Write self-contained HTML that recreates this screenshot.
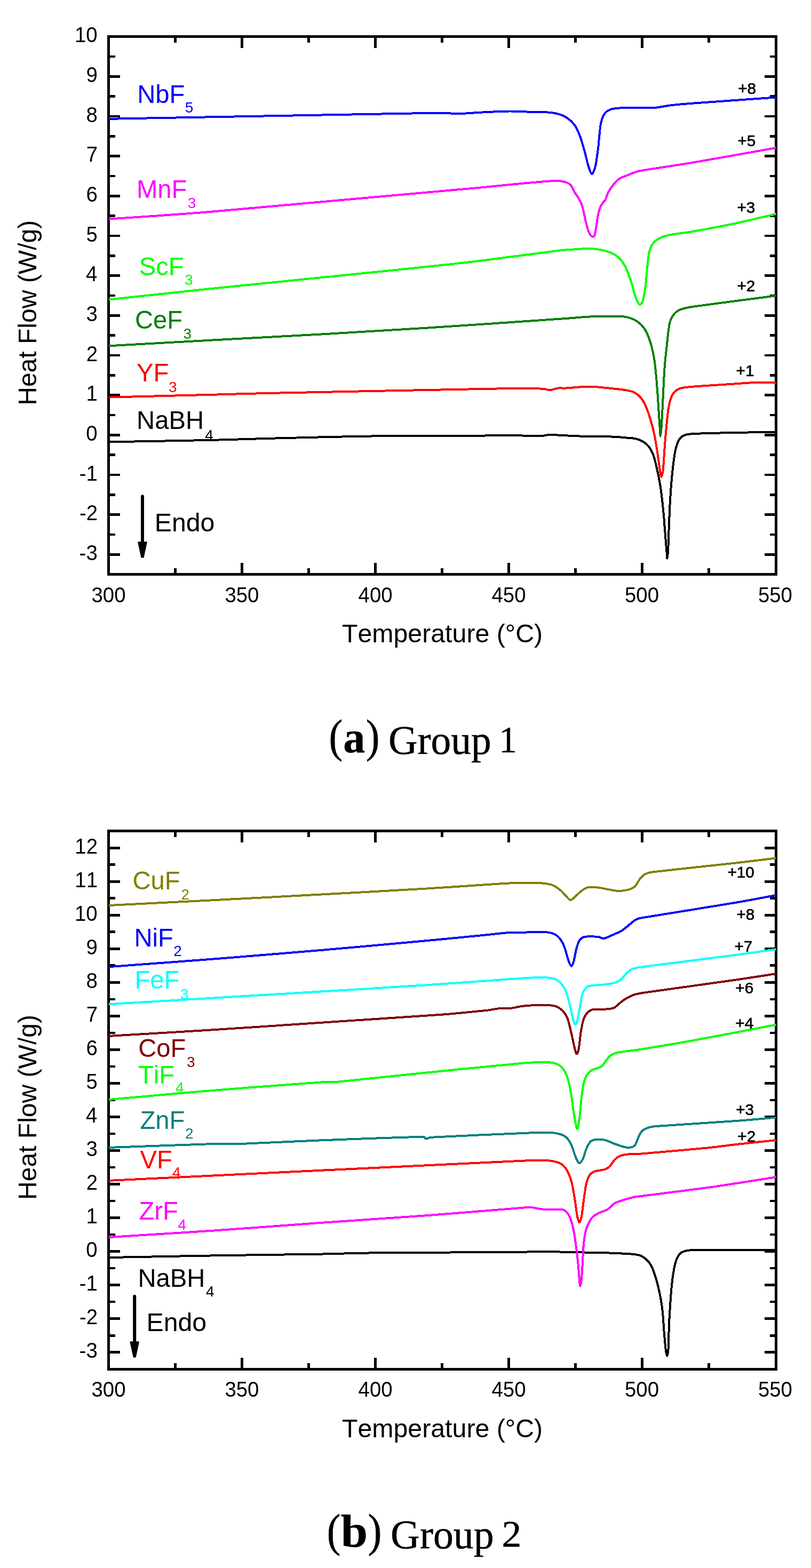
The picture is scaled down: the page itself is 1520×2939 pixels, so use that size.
<!DOCTYPE html>
<html lang="en">
<head>
<meta charset="utf-8">
<title>DSC heat flow curves of NaBH4 with fluoride additives</title>
<style>
html,body{margin:0;padding:0;background:#fff}
body{width:1520px;height:2939px;overflow:hidden}
svg{display:block}
svg text{font-family:"Liberation Sans",Arial,sans-serif;font-kerning:none}
svg .cap text{font-family:"Liberation Serif","DejaVu Serif",serif}
</style>
</head>
<body>
<svg width="1520" height="2939" viewBox="0 0 1520 2939">
<rect width="1520" height="2939" fill="#fff"/>
<g id="chart-a">
<g shape-rendering="crispEdges">
<path d="M203.7 1039.3h21.6M1454.7 1039.3h-21.6M203.7 1001.9h12.2M1454.7 1001.9h-12.2M203.7 964.6h21.6M1454.7 964.6h-21.6M203.7 927.3h12.2M1454.7 927.3h-12.2M203.7 890.0h21.6M1454.7 890.0h-21.6M203.7 852.6h12.2M1454.7 852.6h-12.2M203.7 815.3h21.6M1454.7 815.3h-21.6M203.7 778.0h12.2M1454.7 778.0h-12.2M203.7 740.6h21.6M1454.7 740.6h-21.6M203.7 703.3h12.2M1454.7 703.3h-12.2M203.7 666.0h21.6M1454.7 666.0h-21.6M203.7 628.6h12.2M1454.7 628.6h-12.2M203.7 591.3h21.6M1454.7 591.3h-21.6M203.7 554.0h12.2M1454.7 554.0h-12.2M203.7 516.7h21.6M1454.7 516.7h-21.6M203.7 479.3h12.2M1454.7 479.3h-12.2M203.7 442.0h21.6M1454.7 442.0h-21.6M203.7 404.7h12.2M1454.7 404.7h-12.2M203.7 367.3h21.6M1454.7 367.3h-21.6M203.7 330.0h12.2M1454.7 330.0h-12.2M203.7 292.7h21.6M1454.7 292.7h-21.6M203.7 255.4h12.2M1454.7 255.4h-12.2M203.7 218.0h21.6M1454.7 218.0h-21.6M203.7 180.7h12.2M1454.7 180.7h-12.2M203.7 143.4h21.6M1454.7 143.4h-21.6M203.7 106.0h12.2M1454.7 106.0h-12.2M328.6 68.6v11.4M328.6 1076.4v-11.4M453.6 68.6v21.0M453.6 1076.4v-21.0M578.5 68.6v11.4M578.5 1076.4v-11.4M703.5 68.6v21.0M703.5 1076.4v-21.0M828.5 68.6v11.4M828.5 1076.4v-11.4M953.4 68.6v21.0M953.4 1076.4v-21.0M1078.4 68.6v11.4M1078.4 1076.4v-11.4M1203.3 68.6v21.0M1203.3 1076.4v-21.0M1328.2 68.6v11.4M1328.2 1076.4v-11.4" stroke="#000" stroke-width="4.7" stroke-linecap="butt" fill="none"/>
<rect x="203.7" y="68.6" width="1251.0" height="1007.8" fill="none" stroke="#000" stroke-width="5.0"/>
</g>
<text x="1383.2" y="176.2" font-size="29.7" stroke="#000" stroke-width="0.7">+8</text>
<text x="1382.5" y="274.4" font-size="29.7" stroke="#000" stroke-width="0.7">+5</text>
<text x="1381.4" y="399.4" font-size="29.7" stroke="#000" stroke-width="0.7">+3</text>
<text x="1381.4" y="546.1" font-size="29.7" stroke="#000" stroke-width="0.7">+2</text>
<text x="1379.6" y="704.7" font-size="29.7" stroke="#000" stroke-width="0.7">+1</text>
<clipPath id="clip1"><rect x="203.7" y="68.6" width="1251.0" height="1007.8"/></clipPath>
<g clip-path="url(#clip1)" fill="none" stroke-width="4.0" stroke-linejoin="round" stroke-linecap="butt" shape-rendering="crispEdges">
<path stroke="#000000" d="M199.8 828.4C233.2 827.8 350.0 825.9 400.0 824.8C433.3 824.1 466.7 822.7 500.0 821.9C550.8 820.7 636.5 818.2 704.8 817.4C782.7 816.5 915.8 816.5 967.5 816.4C983.3 816.4 1004.3 817.3 1014.8 817.0C1020.1 816.9 1025.3 815.0 1030.6 814.8C1036.7 814.6 1044.6 815.6 1051.6 815.9C1063.2 816.4 1083.9 817.6 1100.0 818.0C1116.4 818.5 1137.5 818.2 1150.0 818.6C1158.4 818.9 1168.3 820.0 1175.0 820.6C1180.0 821.0 1185.8 821.2 1190.0 822.0C1193.5 822.6 1196.9 823.7 1200.1 825.2C1203.5 826.8 1207.2 828.8 1210.2 831.3C1213.2 833.8 1216.1 837.0 1218.3 840.4C1220.6 843.9 1222.7 848.3 1224.3 852.5C1226.1 857.2 1227.6 863.4 1228.9 868.6C1230.2 873.6 1231.3 878.8 1232.4 883.8C1233.5 888.8 1234.5 893.9 1235.4 898.9C1236.4 904.3 1237.6 910.3 1238.4 916.1C1239.4 923.2 1240.6 932.9 1241.5 941.3C1242.4 949.7 1243.3 958.1 1244.0 966.5C1244.8 974.9 1245.3 983.4 1246.0 991.8C1246.7 1000.2 1247.4 1009.8 1248.0 1017.0C1248.5 1023.1 1249.1 1030.2 1249.5 1035.2C1249.8 1039.1 1250.1 1046.8 1250.5 1046.8C1250.9 1046.8 1251.5 1039.1 1251.8 1035.2C1252.2 1030.2 1252.5 1023.1 1252.8 1017.0C1253.1 1009.8 1253.3 1000.2 1253.6 991.8C1253.9 983.4 1254.2 974.9 1254.6 966.5C1255.0 958.1 1255.3 949.7 1255.8 941.3C1256.3 932.9 1256.9 923.7 1257.4 916.1C1257.9 909.4 1258.5 902.6 1259.1 895.9C1259.7 889.2 1260.4 882.3 1261.2 875.7C1261.9 869.3 1262.8 862.4 1263.7 856.5C1264.5 851.1 1265.5 845.1 1266.7 840.4C1267.7 836.3 1269.2 831.7 1270.7 828.3C1272.0 825.4 1273.8 822.3 1275.8 820.2C1277.8 818.2 1280.4 816.7 1282.9 815.6C1285.4 814.6 1288.2 814.3 1290.9 813.9C1293.9 813.4 1297.6 813.0 1301.0 812.9C1310.0 812.5 1330.3 811.9 1345.0 811.6C1366.8 811.1 1413.0 810.3 1432.0 810.0C1440.9 809.9 1454.3 810.0 1458.8 810.0"/>
<path stroke="#ff0000" d="M199.8 744.7C233.2 743.9 350.0 741.0 400.0 739.7C433.3 738.8 466.7 737.7 500.0 737.0C587.6 735.1 843.2 730.1 925.5 728.6C948.3 728.2 978.0 727.9 993.8 728.0C1002.5 728.0 1013.9 728.5 1020.0 729.0C1023.6 729.3 1027.0 731.4 1030.6 731.2C1034.9 731.0 1041.1 728.2 1046.0 727.6C1050.6 727.0 1055.3 727.8 1060.0 727.6C1069.8 727.1 1090.0 724.5 1105.0 724.6C1120.0 724.8 1138.5 727.4 1150.0 728.5C1158.0 729.3 1167.5 730.3 1174.0 731.5C1179.1 732.4 1184.5 733.4 1189.0 735.7C1193.5 738.1 1197.7 741.6 1201.0 745.6C1204.5 749.8 1207.6 755.3 1210.0 760.6C1213.0 767.3 1216.4 777.4 1219.0 786.0C1221.8 795.2 1224.6 805.9 1226.7 816.0C1229.0 827.0 1231.0 841.0 1232.7 852.0C1234.3 862.0 1235.8 875.1 1237.0 882.0C1237.6 885.9 1238.7 893.6 1239.6 893.6C1240.5 893.6 1242.2 886.0 1242.6 882.0C1243.6 873.1 1244.6 853.0 1245.6 840.0C1246.5 828.0 1247.5 815.5 1248.6 804.0C1249.6 793.0 1250.7 780.2 1252.0 771.0C1253.1 763.5 1254.7 754.6 1256.7 748.6C1258.3 743.7 1260.8 738.5 1264.0 735.0C1267.2 731.5 1271.5 728.9 1276.0 727.6C1282.0 725.9 1292.0 725.3 1300.0 724.6C1314.5 723.4 1343.8 721.7 1363.0 720.4C1380.3 719.3 1399.0 717.6 1415.0 717.0C1429.6 716.5 1451.5 716.9 1458.8 716.9"/>
<path stroke="#007f00" d="M199.8 648.5C233.2 646.7 333.3 641.1 400.0 637.4C466.7 633.7 533.3 630.4 600.0 626.6C666.7 622.8 733.4 618.9 800.0 614.6C876.7 609.7 1010.0 600.5 1060.0 597.0C1073.3 596.1 1088.3 594.5 1100.0 593.8C1110.0 593.2 1120.0 593.2 1130.0 593.0C1140.3 592.8 1153.7 592.2 1162.0 592.7C1168.1 593.0 1174.5 594.0 1180.0 595.7C1185.3 597.4 1190.5 599.8 1195.0 603.0C1199.5 606.2 1203.8 610.4 1207.0 615.0C1210.5 620.0 1213.7 626.7 1216.0 633.0C1218.8 640.5 1221.7 651.0 1223.7 660.0C1225.7 668.9 1227.0 677.9 1228.0 687.0C1229.4 699.0 1230.9 717.5 1232.0 732.0C1233.1 746.0 1234.0 762.5 1234.8 774.0C1235.4 783.0 1236.1 793.7 1236.6 801.0C1237.0 806.6 1237.3 817.7 1237.8 817.7C1238.3 817.7 1239.2 806.6 1239.6 801.0C1240.2 792.2 1241.1 777.0 1241.7 765.0C1242.4 751.5 1243.1 733.5 1243.8 720.0C1244.4 708.0 1245.1 694.8 1246.0 684.0C1246.8 674.3 1247.9 664.7 1249.0 655.0C1250.5 642.0 1252.5 617.2 1255.0 606.0C1256.5 599.5 1260.5 592.3 1264.0 588.0C1267.0 584.3 1271.5 581.7 1276.0 580.0C1282.0 577.8 1291.9 575.8 1300.0 574.6C1330.2 570.3 1430.8 557.4 1457.0 554.0"/>
<path stroke="#00ff00" d="M199.8 562.0C233.2 558.5 333.3 547.5 400.0 540.6C466.6 533.7 533.3 527.2 600.0 520.4C666.7 513.6 750.0 505.3 800.0 500.0C833.4 496.5 866.7 492.9 900.0 488.8C941.7 483.7 1020.0 472.9 1050.0 469.3C1060.0 468.1 1070.8 467.8 1080.0 467.2C1088.3 466.7 1096.7 465.5 1105.0 466.0C1114.2 466.5 1126.5 468.1 1135.0 470.4C1142.4 472.4 1150.0 475.4 1156.0 480.0C1162.0 484.6 1167.2 491.2 1171.0 498.0C1175.5 506.0 1179.7 518.5 1183.0 528.0C1186.0 536.8 1188.0 547.8 1190.6 555.0C1192.7 560.6 1196.2 570.0 1198.7 571.0C1201.2 572.0 1204.4 564.9 1205.6 561.0C1207.5 554.8 1208.8 543.0 1210.0 534.0C1211.2 524.5 1212.0 513.5 1213.0 504.0C1213.9 495.0 1214.5 484.5 1216.0 477.0C1217.2 470.8 1219.2 463.8 1222.0 459.0C1224.5 454.7 1228.4 451.1 1232.7 448.5C1237.7 445.5 1245.3 442.5 1252.0 441.0C1263.2 438.5 1284.1 436.4 1300.0 433.6C1320.0 430.1 1348.1 425.0 1372.0 420.0C1398.5 414.4 1444.3 403.4 1458.8 400.1"/>
<path stroke="#ff00ff" d="M199.8 410.8C225.8 409.0 306.0 403.9 356.0 400.0C404.0 396.3 452.0 391.8 500.0 387.5C590.7 379.4 823.3 358.6 900.0 351.6C920.0 349.8 940.0 347.5 960.0 345.6C980.0 343.7 1006.0 341.3 1020.0 340.2C1028.0 339.6 1037.5 338.9 1044.0 339.0C1049.0 339.1 1054.7 339.7 1059.0 341.0C1062.9 342.2 1066.9 344.0 1069.7 347.0C1072.7 350.3 1074.3 356.2 1077.0 360.6C1079.7 365.1 1083.5 369.3 1086.0 374.0C1088.5 378.7 1090.5 383.8 1092.0 389.0C1094.0 396.0 1096.2 408.7 1098.0 416.0C1099.4 421.6 1101.2 428.5 1102.7 432.7C1103.8 435.6 1105.6 439.1 1107.0 441.0C1108.0 442.3 1109.7 444.0 1111.0 443.8C1112.3 443.6 1114.1 441.7 1114.7 440.0C1115.8 436.6 1116.8 429.1 1117.7 423.7C1118.7 417.7 1119.7 409.3 1120.7 404.0C1121.5 399.9 1122.3 395.9 1123.7 392.0C1125.2 388.0 1128.0 382.7 1129.7 380.0C1130.8 378.3 1133.0 377.4 1134.0 375.6C1135.7 372.4 1137.5 365.4 1140.0 360.6C1142.5 355.8 1145.7 351.1 1149.0 347.0C1152.2 342.9 1155.4 338.6 1159.7 335.7C1164.2 332.6 1170.5 330.8 1176.0 328.5C1181.7 326.1 1187.8 323.3 1194.0 321.6C1200.5 319.8 1208.0 318.8 1215.0 317.7C1232.7 314.8 1271.7 309.2 1300.0 304.4C1340.6 297.5 1432.3 281.0 1458.8 276.3"/>
<path stroke="#0000ff" d="M199.8 222.9C249.8 222.0 400.0 219.2 500.0 217.4C600.0 215.6 743.3 212.8 800.0 212.0C813.3 211.8 830.0 212.1 840.0 212.3C846.7 212.4 853.3 213.4 860.0 213.3C866.7 213.2 873.3 212.4 880.0 212.0C888.0 211.5 898.7 210.7 908.0 210.3C920.7 209.7 940.7 208.6 956.0 208.5C970.7 208.5 989.3 209.8 1000.0 210.0C1006.7 210.2 1013.3 209.5 1020.0 210.0C1027.3 210.5 1037.0 211.2 1044.0 213.0C1050.3 214.6 1056.6 216.9 1062.0 220.5C1067.5 224.1 1073.0 229.2 1077.0 234.6C1081.0 239.9 1083.6 246.3 1086.0 252.6C1089.0 260.3 1092.3 271.5 1095.0 281.0C1097.8 290.7 1100.3 303.5 1102.7 311.0C1104.4 316.2 1107.2 325.7 1109.3 326.0C1111.4 326.3 1114.4 317.5 1115.6 312.7C1117.5 305.2 1119.3 291.3 1120.7 281.0C1122.0 271.0 1122.7 259.7 1123.7 251.0C1124.6 243.5 1125.0 235.1 1126.7 228.6C1128.2 222.8 1130.8 216.0 1134.0 212.0C1136.9 208.3 1141.5 205.9 1146.0 204.6C1152.0 202.9 1162.0 202.3 1170.0 202.0C1182.0 201.5 1208.0 201.7 1218.0 201.6C1222.0 201.6 1226.0 202.0 1230.0 201.6C1237.0 200.8 1250.0 198.2 1260.0 197.0C1271.7 195.7 1286.7 194.5 1300.0 193.5C1333.1 191.0 1432.3 184.1 1458.8 182.2"/>
</g>
<text transform="translate(148.6 1050.0) scale(1 1.045)" font-size="38.4">-3</text>
<text transform="translate(148.9 975.3) scale(1 1.045)" font-size="38.4">-2</text>
<text transform="translate(148.8 900.7) scale(1 1.045)" font-size="38.4">-1</text>
<text transform="translate(161.2 826.0) scale(1 1.045)" font-size="38.4">0</text>
<text transform="translate(161.6 751.3) scale(1 1.045)" font-size="38.4">1</text>
<text transform="translate(161.7 676.7) scale(1 1.045)" font-size="38.4">2</text>
<text transform="translate(161.4 602.0) scale(1 1.045)" font-size="38.4">3</text>
<text transform="translate(160.9 527.4) scale(1 1.045)" font-size="38.4">4</text>
<text transform="translate(161.4 452.7) scale(1 1.045)" font-size="38.4">5</text>
<text transform="translate(161.4 378.0) scale(1 1.045)" font-size="38.4">6</text>
<text transform="translate(161.7 303.4) scale(1 1.045)" font-size="38.4">7</text>
<text transform="translate(161.4 228.7) scale(1 1.045)" font-size="38.4">8</text>
<text transform="translate(161.6 154.1) scale(1 1.045)" font-size="38.4">9</text>
<text transform="translate(139.9 79.4) scale(1 1.045)" font-size="38.4">10</text>
<text transform="translate(171.5 1129.0) scale(1 1.045)" font-size="38.4">300</text>
<text transform="translate(421.4 1129.0) scale(1 1.045)" font-size="38.4">350</text>
<text transform="translate(671.6 1129.0) scale(1 1.045)" font-size="38.4">400</text>
<text transform="translate(921.5 1129.0) scale(1 1.045)" font-size="38.4">450</text>
<text transform="translate(1171.0 1129.0) scale(1 1.045)" font-size="38.4">500</text>
<text transform="translate(1420.9 1129.0) scale(1 1.045)" font-size="38.4">550</text>
<text x="640.9" y="1203.9" font-size="47.4" textLength="376.2" lengthAdjust="spacingAndGlyphs">Temperature (°C)</text>
<g transform="translate(68.1 755.9) rotate(-90)"><text x="-3.9" y="0.0" font-size="49" textLength="347.0" lengthAdjust="spacingAndGlyphs">Heat Flow (W/g)</text></g>
<text transform="translate(257.2 193.0) scale(1 1.020)" font-size="47.2" fill="#0000ff">NbF</text>
<text x="346.8" y="211.0" font-size="28" fill="#0000ff">5</text>
<text transform="translate(255.9 371.4) scale(1 1.020)" font-size="47.2" fill="#ff00ff">MnF</text>
<text x="351.8" y="389.8" font-size="28" fill="#ff00ff">3</text>
<text transform="translate(260.7 515.5) scale(1 1.020)" font-size="47.2" fill="#00ff00">ScF</text>
<text x="346.1" y="534.3" font-size="28" fill="#00ff00">3</text>
<text transform="translate(252.9 616.1) scale(1 1.020)" font-size="47.2" fill="#007f00">CeF</text>
<text x="343.5" y="634.8" font-size="28" fill="#007f00">3</text>
<text transform="translate(256.0 715.3) scale(1 1.020)" font-size="47.2" fill="#ff0000">YF</text>
<text x="316.1" y="734.5" font-size="28" fill="#ff0000">3</text>
<text transform="translate(256.1 803.5) scale(1 1.020)" font-size="47.2">NaBH</text>
<text x="384.2" y="824.6" font-size="28">4</text>
<text x="289.8" y="995.6" font-size="48.2">Endo</text>
<path d="M267.0 930.3V1023.8" stroke="#000" stroke-width="6" stroke-linecap="round" fill="none"/>
<path d="M259.5 1016.5L274.5 1016.5L268.5 1044.4L265.5 1044.4Z" fill="#000" stroke="#000" stroke-width="2.4" stroke-linejoin="round"/>
</g>
<g class="cap" stroke="#000" stroke-width="0.7" stroke-linejoin="round">
<text transform="translate(616.61 1409.26) scale(0.7709 0.8613)" font-size="100">(</text>
<text transform="translate(643.16 1409.98) scale(0.8196 0.8413)" font-size="100" font-weight="bold" stroke-width="0.5">a</text>
<text transform="translate(685.82 1409.26) scale(0.7709 0.8613)" font-size="100">)</text>
<text transform="translate(728.01 1412.79) scale(0.7543 0.7520)" font-size="100">Group</text>
<text transform="translate(935.01 1409.60) scale(0.6817 0.6877)" font-size="100">1</text>
</g>
<g id="chart-b">
<g shape-rendering="crispEdges">
<path d="M203.7 2534.7h21.6M1454.7 2534.7h-21.6M203.7 2503.2h12.2M1454.7 2503.2h-12.2M203.7 2471.7h21.6M1454.7 2471.7h-21.6M203.7 2440.1h12.2M1454.7 2440.1h-12.2M203.7 2408.6h21.6M1454.7 2408.6h-21.6M203.7 2377.1h12.2M1454.7 2377.1h-12.2M203.7 2345.6h21.6M1454.7 2345.6h-21.6M203.7 2314.1h12.2M1454.7 2314.1h-12.2M203.7 2282.6h21.6M1454.7 2282.6h-21.6M203.7 2251.1h12.2M1454.7 2251.1h-12.2M203.7 2219.5h21.6M1454.7 2219.5h-21.6M203.7 2188.0h12.2M1454.7 2188.0h-12.2M203.7 2156.5h21.6M1454.7 2156.5h-21.6M203.7 2125.0h12.2M1454.7 2125.0h-12.2M203.7 2093.5h21.6M1454.7 2093.5h-21.6M203.7 2062.0h12.2M1454.7 2062.0h-12.2M203.7 2030.4h21.6M1454.7 2030.4h-21.6M203.7 1998.9h12.2M1454.7 1998.9h-12.2M203.7 1967.4h21.6M1454.7 1967.4h-21.6M203.7 1935.9h12.2M1454.7 1935.9h-12.2M203.7 1904.4h21.6M1454.7 1904.4h-21.6M203.7 1872.9h12.2M1454.7 1872.9h-12.2M203.7 1841.4h21.6M1454.7 1841.4h-21.6M203.7 1809.8h12.2M1454.7 1809.8h-12.2M203.7 1778.3h21.6M1454.7 1778.3h-21.6M203.7 1746.8h12.2M1454.7 1746.8h-12.2M203.7 1715.3h21.6M1454.7 1715.3h-21.6M203.7 1683.8h12.2M1454.7 1683.8h-12.2M203.7 1652.3h21.6M1454.7 1652.3h-21.6M203.7 1620.8h12.2M1454.7 1620.8h-12.2M203.7 1589.2h21.6M1454.7 1589.2h-21.6M328.6 1557.7v11.4M328.6 2566.3v-11.4M453.6 1557.7v21.0M453.6 2566.3v-21.0M578.5 1557.7v11.4M578.5 2566.3v-11.4M703.5 1557.7v21.0M703.5 2566.3v-21.0M828.5 1557.7v11.4M828.5 2566.3v-11.4M953.4 1557.7v21.0M953.4 2566.3v-21.0M1078.4 1557.7v11.4M1078.4 2566.3v-11.4M1203.3 1557.7v21.0M1203.3 2566.3v-21.0M1328.2 1557.7v11.4M1328.2 2566.3v-11.4" stroke="#000" stroke-width="4.7" stroke-linecap="butt" fill="none"/>
<rect x="203.7" y="1557.7" width="1251.0" height="1008.6" fill="none" stroke="#000" stroke-width="5.0"/>
</g>
<text x="1363.4" y="1644.7" font-size="29.7" stroke="#000" stroke-width="0.7">+10</text>
<text x="1380.4" y="1723.7" font-size="29.7" stroke="#000" stroke-width="0.7">+8</text>
<text x="1376.5" y="1784.2" font-size="29.7" stroke="#000" stroke-width="0.7">+7</text>
<text x="1378.3" y="1861.6" font-size="29.7" stroke="#000" stroke-width="0.7">+6</text>
<text x="1378.3" y="1927.7" font-size="29.7" stroke="#000" stroke-width="0.7">+4</text>
<text x="1379.2" y="2090.0" font-size="29.7" stroke="#000" stroke-width="0.7">+3</text>
<text x="1382.3" y="2140.0" font-size="29.7" stroke="#000" stroke-width="0.7">+2</text>
<clipPath id="clip2"><rect x="203.7" y="1557.7" width="1251.0" height="1008.6"/></clipPath>
<g clip-path="url(#clip2)" fill="none" stroke-width="4.0" stroke-linejoin="round" stroke-linecap="butt" shape-rendering="crispEdges">
<path stroke="#000000" d="M199.8 2357.1C233.2 2356.5 333.3 2354.5 400.0 2353.4C466.7 2352.3 550.0 2351.4 600.0 2350.6C633.3 2350.0 666.7 2348.7 700.0 2348.4C763.3 2347.8 926.8 2347.2 980.0 2346.7C993.0 2346.6 1006.5 2345.5 1019.0 2345.5C1031.0 2345.5 1043.0 2346.4 1055.0 2346.7C1075.5 2347.2 1122.0 2347.9 1142.0 2348.5C1153.0 2348.8 1167.0 2349.6 1175.0 2350.0C1180.0 2350.3 1186.0 2350.7 1190.0 2351.2C1193.0 2351.6 1196.1 2351.9 1199.0 2353.0C1202.0 2354.1 1205.3 2355.8 1208.0 2357.9C1211.0 2360.2 1214.5 2363.5 1217.0 2366.9C1219.5 2370.3 1221.5 2374.5 1223.3 2378.6C1225.1 2382.7 1226.4 2387.0 1227.8 2391.3C1229.2 2395.7 1230.7 2400.3 1231.9 2404.8C1233.1 2409.3 1234.0 2414.0 1235.0 2418.3C1235.9 2422.5 1236.9 2426.7 1237.7 2430.9C1238.5 2435.2 1239.3 2439.9 1240.0 2444.4C1240.7 2449.1 1241.3 2454.0 1241.8 2458.8C1242.3 2463.8 1242.8 2469.0 1243.2 2474.1C1243.6 2479.4 1243.7 2485.1 1244.1 2490.4C1244.5 2495.5 1245.0 2500.9 1245.4 2505.7C1245.8 2510.2 1246.2 2514.7 1246.6 2519.2C1247.0 2523.7 1247.5 2529.0 1248.1 2532.7C1248.6 2535.7 1249.5 2541.5 1250.2 2541.5C1250.9 2541.5 1251.8 2535.7 1252.2 2532.7C1252.7 2529.0 1252.7 2523.7 1252.9 2519.2C1253.1 2514.7 1253.1 2510.2 1253.2 2505.7C1253.3 2500.9 1253.6 2495.5 1253.8 2490.4C1254.0 2485.1 1254.2 2479.4 1254.4 2474.1C1254.6 2469.0 1255.0 2463.8 1255.3 2458.8C1255.6 2454.0 1255.9 2449.1 1256.2 2444.4C1256.5 2439.9 1256.8 2435.4 1257.1 2430.9C1257.4 2426.2 1257.9 2421.3 1258.3 2416.5C1258.8 2411.7 1259.2 2406.8 1259.8 2402.1C1260.3 2397.6 1260.9 2393.1 1261.6 2388.6C1262.3 2384.1 1263.0 2379.2 1263.9 2375.0C1264.7 2371.1 1265.8 2366.8 1267.0 2363.3C1268.1 2360.2 1269.5 2356.9 1271.1 2354.3C1272.6 2352.0 1274.4 2349.6 1276.5 2348.0C1278.6 2346.4 1281.2 2345.6 1283.7 2344.9C1286.5 2344.1 1290.3 2343.6 1293.6 2343.3C1298.0 2342.9 1304.5 2342.6 1310.0 2342.6C1337.5 2342.5 1434.0 2342.5 1458.8 2342.5"/>
<path stroke="#ff00ff" d="M199.8 2319.3C233.2 2317.1 333.3 2311.1 400.0 2306.6C466.7 2302.1 533.3 2296.7 600.0 2292.0C666.7 2287.3 736.7 2282.9 800.0 2278.2C860.0 2273.7 947.5 2266.2 980.0 2263.7C985.0 2263.3 990.0 2262.6 995.0 2263.0C1001.5 2263.5 1010.9 2266.2 1019.0 2266.7C1028.5 2267.3 1045.0 2266.0 1052.0 2266.7C1055.3 2267.0 1058.6 2268.7 1061.0 2271.0C1063.8 2273.7 1066.8 2278.6 1068.6 2283.0C1070.9 2288.5 1073.1 2296.9 1074.6 2304.0C1076.3 2312.0 1077.8 2322.0 1079.0 2331.0C1080.5 2342.0 1082.4 2358.5 1083.6 2370.0C1084.6 2380.0 1085.3 2393.2 1086.0 2400.0C1086.3 2403.6 1086.9 2410.6 1087.5 2410.6C1088.1 2410.6 1089.2 2403.6 1089.6 2400.0C1090.3 2393.2 1091.1 2380.0 1091.7 2370.0C1092.4 2358.5 1092.8 2342.0 1094.0 2331.0C1094.9 2321.9 1096.6 2311.2 1098.6 2304.0C1100.2 2298.2 1103.8 2291.5 1106.0 2287.5C1107.6 2284.7 1109.5 2282.0 1112.0 2280.0C1115.0 2277.6 1119.8 2275.0 1124.0 2273.0C1128.5 2270.8 1134.5 2269.5 1139.0 2266.7C1143.5 2263.9 1146.5 2258.8 1151.0 2256.0C1155.5 2253.2 1160.9 2251.7 1166.0 2250.0C1172.0 2248.0 1181.3 2245.3 1187.0 2244.0C1191.3 2243.0 1195.7 2242.8 1200.0 2242.2C1223.3 2239.2 1297.0 2229.9 1327.0 2225.9C1344.7 2223.5 1362.3 2220.7 1380.0 2218.0C1402.0 2214.6 1445.7 2207.6 1458.8 2205.6"/>
<path stroke="#ff0000" d="M199.8 2213.1C329.8 2206.9 842.5 2182.0 980.0 2175.7C995.0 2175.0 1014.5 2174.6 1025.0 2175.0C1031.1 2175.2 1038.0 2176.5 1043.0 2178.0C1047.3 2179.3 1051.6 2181.1 1055.0 2184.0C1058.5 2187.0 1061.8 2191.5 1064.0 2196.0C1066.8 2201.5 1069.8 2209.8 1071.6 2217.0C1073.9 2226.0 1075.9 2239.5 1077.6 2250.0C1079.2 2260.0 1080.6 2273.1 1082.0 2280.0C1082.8 2284.0 1084.7 2291.6 1086.0 2291.6C1087.3 2291.6 1089.2 2284.0 1090.0 2280.0C1091.3 2273.1 1092.6 2260.0 1094.0 2250.0C1095.4 2240.0 1096.8 2227.7 1098.6 2220.0C1099.9 2214.3 1102.1 2207.6 1104.6 2203.6C1106.7 2200.3 1110.0 2197.5 1113.6 2196.0C1118.3 2194.1 1128.3 2193.5 1133.0 2192.0C1136.3 2191.0 1139.5 2189.4 1142.0 2187.0C1145.0 2184.2 1148.0 2178.2 1151.0 2175.0C1153.6 2172.2 1156.5 2169.3 1160.0 2167.6C1164.0 2165.7 1169.9 2164.3 1175.0 2163.7C1181.7 2162.9 1191.7 2163.4 1200.0 2162.7C1225.3 2160.6 1297.0 2154.3 1327.0 2151.4C1344.7 2149.7 1362.3 2147.0 1380.0 2145.0C1402.0 2142.5 1445.7 2138.0 1458.8 2136.6"/>
<path stroke="#008080" d="M199.8 2151.1C233.2 2150.0 356.6 2145.3 400.0 2144.0C420.0 2143.4 440.0 2144.3 460.0 2143.6C493.3 2142.5 553.3 2139.2 600.0 2137.4C655.6 2135.3 760.3 2131.3 793.4 2130.8C795.6 2130.8 796.6 2134.4 798.8 2134.6C801.0 2134.8 803.8 2132.0 806.6 2131.8C836.8 2130.0 943.6 2125.5 980.0 2124.0C995.0 2123.4 1013.5 2122.3 1025.0 2122.6C1033.1 2122.8 1042.7 2123.9 1049.0 2125.6C1054.0 2127.0 1058.9 2129.4 1062.6 2133.0C1066.4 2136.7 1069.2 2142.7 1071.6 2148.0C1074.3 2154.0 1076.7 2163.6 1079.0 2169.0C1080.8 2173.1 1083.4 2180.0 1085.7 2180.5C1088.0 2181.0 1091.0 2175.3 1092.6 2172.0C1094.8 2167.6 1096.4 2159.2 1098.6 2154.0C1100.6 2149.3 1103.3 2143.6 1106.0 2140.6C1108.3 2138.1 1111.7 2136.5 1115.0 2136.0C1119.5 2135.3 1127.1 2135.5 1133.0 2136.7C1139.0 2138.0 1145.0 2141.4 1151.0 2143.6C1157.0 2145.7 1164.0 2148.4 1169.0 2149.6C1172.9 2150.6 1177.5 2151.5 1181.0 2151.0C1184.3 2150.5 1187.9 2149.2 1190.0 2146.6C1192.5 2143.6 1193.8 2137.4 1196.0 2133.0C1198.3 2128.5 1200.2 2122.9 1203.7 2119.6C1207.2 2116.3 1212.2 2114.4 1217.0 2113.0C1222.2 2111.5 1229.0 2111.0 1235.0 2110.6C1262.2 2108.6 1342.7 2103.7 1380.0 2101.0C1406.3 2099.1 1445.7 2095.3 1458.8 2094.2"/>
<path stroke="#00ff00" d="M199.8 2061.4C233.2 2058.4 333.3 2049.3 400.0 2043.8C466.6 2038.3 561.0 2031.3 600.0 2028.6C611.3 2027.8 622.7 2028.6 634.0 2027.6C667.3 2024.6 744.7 2016.0 800.0 2010.4C857.7 2004.6 942.5 1995.9 980.0 1992.7C995.0 1991.4 1014.5 1990.8 1025.0 1991.0C1031.1 1991.1 1038.0 1992.0 1043.0 1994.0C1047.6 1995.9 1051.9 1999.1 1055.0 2003.0C1058.5 2007.5 1061.9 2014.6 1064.0 2021.0C1066.5 2028.5 1068.4 2038.9 1070.0 2048.0C1072.0 2059.5 1074.0 2078.6 1076.0 2090.0C1077.6 2098.8 1080.2 2116.2 1082.0 2116.2C1083.8 2116.2 1085.4 2098.8 1086.6 2090.0C1087.9 2080.6 1088.4 2070.0 1089.6 2060.0C1090.8 2050.0 1092.3 2037.5 1094.0 2030.0C1095.2 2024.8 1097.5 2019.0 1100.0 2015.0C1102.2 2011.4 1105.4 2008.2 1109.0 2006.0C1113.5 2003.3 1122.5 2002.0 1127.0 1999.0C1130.9 1996.4 1133.0 1991.5 1136.0 1988.0C1138.9 1984.5 1141.2 1980.2 1145.0 1977.7C1149.0 1975.1 1154.8 1973.5 1160.0 1972.5C1169.2 1970.7 1186.7 1969.1 1200.0 1967.0C1220.0 1963.8 1253.4 1958.3 1280.0 1953.6C1310.0 1948.3 1350.2 1940.6 1380.0 1935.0C1406.3 1930.0 1445.7 1922.4 1458.8 1919.8"/>
<path stroke="#800000" d="M199.8 1942.2C233.2 1940.2 333.3 1934.4 400.0 1930.2C466.7 1926.0 533.3 1921.3 600.0 1916.9C666.7 1912.5 760.0 1906.3 800.0 1903.6C813.3 1902.7 826.7 1901.9 840.0 1900.8C854.2 1899.6 872.5 1897.7 885.0 1896.5C895.0 1895.5 906.5 1894.5 915.0 1893.5C922.0 1892.6 929.0 1890.8 936.0 1890.2C943.0 1889.6 950.5 1890.4 957.0 1889.8C963.1 1889.2 969.5 1887.3 975.0 1886.5C980.0 1885.7 985.0 1885.2 990.0 1884.8C995.0 1884.4 1000.0 1884.3 1005.0 1884.2C1011.5 1884.1 1022.7 1883.8 1029.0 1884.2C1033.7 1884.5 1038.7 1884.9 1043.0 1886.7C1047.3 1888.5 1051.7 1891.4 1055.0 1895.0C1058.5 1898.9 1062.0 1904.5 1064.0 1910.0C1066.8 1917.5 1069.3 1930.5 1071.6 1940.0C1073.7 1949.0 1076.0 1961.1 1077.6 1967.0C1078.4 1970.0 1080.0 1976.0 1081.2 1975.5C1082.4 1975.0 1084.3 1968.0 1085.0 1964.0C1086.2 1957.1 1087.2 1943.0 1088.7 1934.0C1090.0 1925.9 1091.8 1916.1 1094.0 1910.0C1095.6 1905.4 1098.6 1900.5 1101.6 1897.5C1104.4 1894.7 1108.1 1892.7 1112.0 1892.0C1117.7 1891.0 1129.5 1892.0 1136.0 1891.5C1141.1 1891.1 1147.0 1890.7 1151.0 1889.0C1154.6 1887.5 1156.9 1883.9 1160.0 1881.5C1163.5 1878.8 1167.7 1875.1 1172.0 1872.5C1176.5 1869.8 1181.7 1866.8 1187.0 1865.0C1193.0 1863.0 1200.9 1861.5 1208.0 1860.5C1240.2 1855.8 1338.2 1842.5 1380.0 1836.5C1406.3 1832.7 1445.7 1826.4 1458.8 1824.4"/>
<path stroke="#00ffff" d="M199.8 1882.5C233.2 1880.5 333.3 1874.6 400.0 1870.6C466.7 1866.6 533.3 1862.6 600.0 1858.6C666.7 1854.5 736.7 1850.5 800.0 1846.3C860.0 1842.3 943.5 1835.9 980.0 1833.5C993.0 1832.7 1009.0 1831.8 1019.0 1832.0C1026.1 1832.2 1034.5 1833.0 1040.0 1835.0C1044.7 1836.7 1048.7 1840.2 1052.0 1844.0C1055.5 1848.0 1058.9 1853.6 1061.0 1859.0C1063.8 1866.0 1066.3 1877.0 1068.6 1886.0C1070.9 1894.9 1073.0 1907.2 1074.6 1913.0C1075.3 1915.7 1077.0 1920.6 1078.2 1920.6C1079.4 1920.6 1081.3 1915.7 1082.0 1913.0C1083.4 1907.7 1085.1 1897.0 1086.6 1889.0C1088.1 1881.0 1089.3 1871.0 1091.0 1865.0C1092.2 1860.7 1094.7 1855.8 1097.0 1853.0C1098.9 1850.6 1101.6 1848.7 1104.6 1848.0C1110.1 1846.8 1122.3 1846.4 1130.0 1845.5C1137.0 1844.7 1145.5 1844.0 1151.0 1842.5C1155.3 1841.3 1159.5 1839.3 1163.0 1836.5C1167.0 1833.4 1171.2 1827.1 1175.0 1823.7C1178.3 1820.8 1181.6 1817.7 1185.7 1816.0C1190.2 1814.2 1196.5 1813.3 1202.0 1812.6C1234.4 1808.2 1337.2 1795.4 1380.0 1789.8C1406.3 1786.3 1445.7 1780.6 1458.8 1778.7"/>
<path stroke="#0000ff" d="M199.8 1812.5C233.2 1810.0 333.3 1802.7 400.0 1797.5C466.7 1792.3 533.4 1786.8 600.0 1781.1C666.7 1775.4 750.0 1767.7 800.0 1763.1C833.3 1760.0 874.8 1756.0 900.0 1753.5C917.0 1751.8 937.7 1749.3 951.0 1748.3C960.6 1747.6 970.3 1747.9 980.0 1747.7C991.3 1747.5 1009.5 1746.6 1019.0 1747.0C1025.1 1747.2 1032.0 1748.0 1037.0 1750.0C1041.6 1751.9 1045.8 1755.1 1049.0 1759.0C1052.5 1763.3 1055.7 1769.7 1058.0 1775.6C1060.8 1782.6 1063.4 1795.1 1065.6 1801.0C1066.9 1804.6 1069.3 1811.0 1071.0 1811.0C1072.7 1811.0 1074.5 1804.5 1075.5 1801.0C1077.1 1795.3 1078.8 1783.5 1080.6 1777.0C1082.1 1771.8 1084.1 1765.5 1086.6 1762.0C1088.7 1759.1 1092.0 1756.6 1095.6 1756.0C1101.3 1755.0 1115.0 1755.5 1121.0 1756.0C1124.7 1756.3 1128.0 1759.5 1131.6 1759.0C1136.1 1758.4 1142.6 1754.9 1148.0 1752.5C1153.7 1750.0 1160.5 1747.4 1166.0 1744.0C1171.4 1740.6 1176.5 1735.5 1181.0 1732.0C1184.9 1728.9 1188.5 1725.1 1193.0 1723.0C1197.5 1720.9 1202.9 1720.4 1208.0 1719.5C1239.2 1714.3 1338.2 1698.7 1380.0 1691.6C1406.3 1687.1 1445.7 1679.5 1458.8 1677.1"/>
<path stroke="#808000" d="M199.8 1697.2C233.2 1695.5 333.3 1690.6 400.0 1687.2C466.7 1683.8 533.3 1680.2 600.0 1676.6C666.7 1673.0 742.5 1669.0 800.0 1665.5C848.4 1662.6 915.0 1657.7 945.0 1655.9C956.7 1655.2 969.2 1655.2 980.0 1655.0C990.0 1654.9 1001.0 1654.4 1010.0 1655.0C1018.1 1655.5 1027.5 1656.4 1034.0 1658.5C1039.6 1660.3 1044.5 1664.0 1049.0 1667.5C1053.5 1671.0 1057.6 1676.2 1061.0 1679.5C1063.7 1682.1 1066.4 1687.0 1069.4 1687.0C1072.4 1687.0 1075.9 1682.1 1079.0 1679.5C1082.6 1676.5 1087.0 1671.8 1091.0 1669.0C1094.7 1666.5 1098.6 1663.8 1103.0 1663.0C1108.0 1662.1 1115.0 1662.9 1121.0 1663.6C1127.5 1664.3 1135.5 1666.4 1142.0 1667.5C1148.0 1668.5 1154.0 1670.0 1160.0 1670.0C1166.0 1670.0 1173.0 1668.9 1178.0 1667.5C1182.3 1666.3 1186.7 1664.5 1190.0 1661.5C1193.5 1658.2 1196.0 1651.8 1199.0 1648.0C1201.7 1644.7 1204.3 1641.1 1208.0 1639.0C1212.0 1636.8 1217.8 1635.2 1223.0 1634.5C1251.7 1630.9 1340.7 1621.8 1380.0 1617.4C1406.3 1614.4 1445.7 1609.4 1458.8 1607.8"/>
</g>
<text transform="translate(148.6 2545.4) scale(1 1.045)" font-size="38.4">-3</text>
<text transform="translate(148.9 2482.4) scale(1 1.045)" font-size="38.4">-2</text>
<text transform="translate(148.8 2419.3) scale(1 1.045)" font-size="38.4">-1</text>
<text transform="translate(161.2 2356.3) scale(1 1.045)" font-size="38.4">0</text>
<text transform="translate(161.6 2293.3) scale(1 1.045)" font-size="38.4">1</text>
<text transform="translate(161.7 2230.2) scale(1 1.045)" font-size="38.4">2</text>
<text transform="translate(161.4 2167.2) scale(1 1.045)" font-size="38.4">3</text>
<text transform="translate(160.9 2104.2) scale(1 1.045)" font-size="38.4">4</text>
<text transform="translate(161.4 2041.1) scale(1 1.045)" font-size="38.4">5</text>
<text transform="translate(161.4 1978.1) scale(1 1.045)" font-size="38.4">6</text>
<text transform="translate(161.7 1915.1) scale(1 1.045)" font-size="38.4">7</text>
<text transform="translate(161.4 1852.1) scale(1 1.045)" font-size="38.4">8</text>
<text transform="translate(161.6 1789.0) scale(1 1.045)" font-size="38.4">9</text>
<text transform="translate(139.9 1726.0) scale(1 1.045)" font-size="38.4">10</text>
<text transform="translate(140.3 1663.0) scale(1 1.045)" font-size="38.4">11</text>
<text transform="translate(140.3 1599.9) scale(1 1.045)" font-size="38.4">12</text>
<text transform="translate(171.5 2618.0) scale(1 1.045)" font-size="38.4">300</text>
<text transform="translate(421.4 2618.0) scale(1 1.045)" font-size="38.4">350</text>
<text transform="translate(671.6 2618.0) scale(1 1.045)" font-size="38.4">400</text>
<text transform="translate(921.5 2618.0) scale(1 1.045)" font-size="38.4">450</text>
<text transform="translate(1171.0 2618.0) scale(1 1.045)" font-size="38.4">500</text>
<text transform="translate(1420.9 2618.0) scale(1 1.045)" font-size="38.4">550</text>
<text x="640.9" y="2693.8" font-size="47.4" textLength="376.2" lengthAdjust="spacingAndGlyphs">Temperature (°C)</text>
<g transform="translate(68.1 2245.1) rotate(-90)"><text x="-3.9" y="0.0" font-size="49" textLength="347.0" lengthAdjust="spacingAndGlyphs">Heat Flow (W/g)</text></g>
<text transform="translate(248.4 1667.2) scale(1 1.020)" font-size="47.2" fill="#808000">CuF</text>
<text x="339.4" y="1686.0" font-size="28" fill="#808000">2</text>
<text transform="translate(251.4 1774.2) scale(1 1.020)" font-size="47.2" fill="#0000ff">NiF</text>
<text x="325.2" y="1792.2" font-size="28" fill="#0000ff">2</text>
<text transform="translate(252.5 1853.0) scale(1 1.020)" font-size="47.2" fill="#00ffff">FeF</text>
<text x="337.9" y="1872.5" font-size="28" fill="#00ffff">3</text>
<text transform="translate(259.2 1980.7) scale(1 1.020)" font-size="47.2" fill="#800000">CoF</text>
<text x="349.9" y="1999.5" font-size="28" fill="#800000">3</text>
<text transform="translate(258.9 2030.7) scale(1 1.020)" font-size="47.2" fill="#00ff00">TiF</text>
<text x="328.9" y="2048.2" font-size="28" fill="#00ff00">4</text>
<text transform="translate(262.4 2115.5) scale(1 1.020)" font-size="47.2" fill="#008080">ZnF</text>
<text x="346.9" y="2133.5" font-size="28" fill="#008080">2</text>
<text transform="translate(262.6 2189.8) scale(1 1.020)" font-size="47.2" fill="#ff0000">VF</text>
<text x="323.0" y="2206.8" font-size="28" fill="#ff0000">4</text>
<text transform="translate(260.5 2286.3) scale(1 1.020)" font-size="47.2" fill="#ff00ff">ZrF</text>
<text x="333.4" y="2305.2" font-size="28" fill="#ff00ff">4</text>
<text transform="translate(258.4 2411.9) scale(1 1.020)" font-size="47.2">NaBH</text>
<text x="386.1" y="2429.9" font-size="28">4</text>
<text x="274.6" y="2494.8" font-size="48.2">Endo</text>
<path d="M252.2 2429.7V2522.7" stroke="#000" stroke-width="6" stroke-linecap="round" fill="none"/>
<path d="M244.7 2515.4L259.7 2515.4L253.7 2543.3L250.7 2543.3Z" fill="#000" stroke="#000" stroke-width="2.4" stroke-linejoin="round"/>
</g>
<g class="cap" stroke="#000" stroke-width="0.7" stroke-linejoin="round">
<text transform="translate(612.81 2898.49) scale(0.7709 0.8602)" font-size="100">(</text>
<text transform="translate(638.65 2899.06) scale(0.9047 0.8627)" font-size="100" font-weight="bold" stroke-width="0.5">b</text>
<text transform="translate(689.39 2898.49) scale(0.7787 0.8602)" font-size="100">)</text>
<text transform="translate(731.99 2901.87) scale(0.7575 0.7531)" font-size="100">Group</text>
<text transform="translate(940.47 2898.80) scale(0.7359 0.6917)" font-size="100">2</text>
</g>
</svg>
</body>
</html>
